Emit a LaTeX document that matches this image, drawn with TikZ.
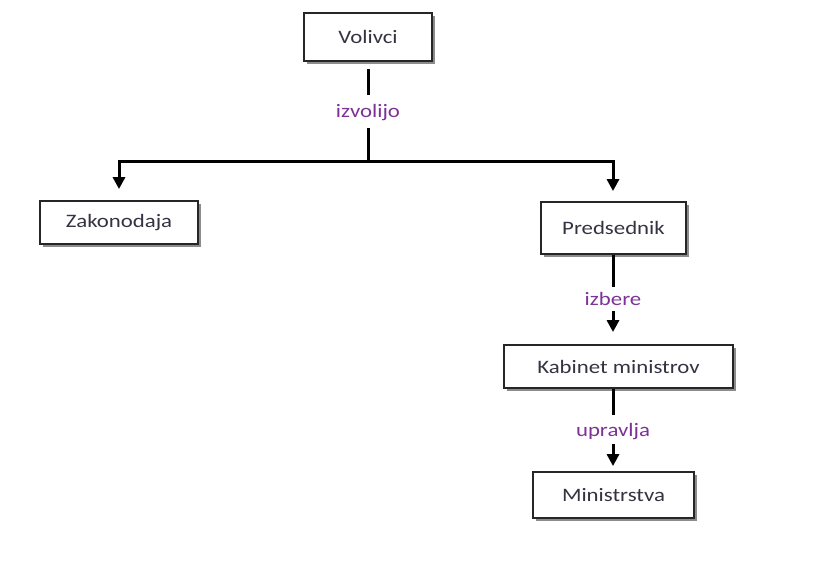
\documentclass[tikz,border=0pt]{standalone}
\usepackage{fontspec}
\setmainfont{Carlito}[FakeStretch=1.2]
\usetikzlibrary{arrows.meta,shadows}
\definecolor{lblpurple}{RGB}{125,50,150}
\definecolor{boxtext}{RGB}{55,50,65}
\tikzset{
  box/.style={draw=black!85, line width=1.8pt, fill=white, inner sep=0pt,
    text=boxtext, font=\fontsize{19}{22}\selectfont,
    drop shadow={shadow xshift=3pt, shadow yshift=-3pt, fill=black!45, opacity=1}},
  lbl/.style={inner sep=0pt, minimum height=24pt, text=lblpurple,
    font=\fontsize{19}{22}\selectfont},
  conn/.style={line width=3pt, black},
  arr/.style={conn, -{Triangle[width=12pt,length=12pt]}}
}
\begin{document}
\begin{tikzpicture}[x=1pt,y=-1pt]
\useasboundingbox (0,0) rectangle (815,577);
\node[box, minimum width=128pt, minimum height=48pt] (vol) at (368,37) {Volivci};
\node[box, minimum width=158pt, minimum height=43pt] (zak) at (119,222.5) {Zakonodaja};
\node[box, minimum width=145pt, minimum height=52pt] (pred) at (613.5,228) {Predsednik};
\node[box, minimum width=229pt, minimum height=43pt] (kab) at (618.5,366.5) {Kabinet ministrov};
\node[box, minimum width=161pt, minimum height=46pt] (min) at (613.5,495) {Ministrstva};
\node[lbl] (l1) at (368,113) {izvolijo};
\node[lbl] (l2) at (613,299) {izbere};
\node[lbl] (l3) at (613,432) {upravlja};
\coordinate (j) at (368,162);
\draw[conn, shorten <=7pt, shorten >=6pt] (vol.south) -- (l1.north);
\draw[conn, shorten <=3pt] (l1.south) -- (j);
\draw[arr, shorten >=11pt] (j) -| (zak.north);
\draw[arr, shorten >=10pt] (j) -| (l2.north |- pred.north);
\draw[conn] (l2.north |- pred.south) -- (l2.north);
\draw[arr, shorten >=12pt] (l2.south) -- (l2.south |- kab.north);
\draw[conn, shorten >=5pt] (l3.north |- kab.south) -- (l3.north);
\draw[arr, shorten >=5pt] (l3.south) -- (l3.south |- min.north);
\end{tikzpicture}
\end{document}
